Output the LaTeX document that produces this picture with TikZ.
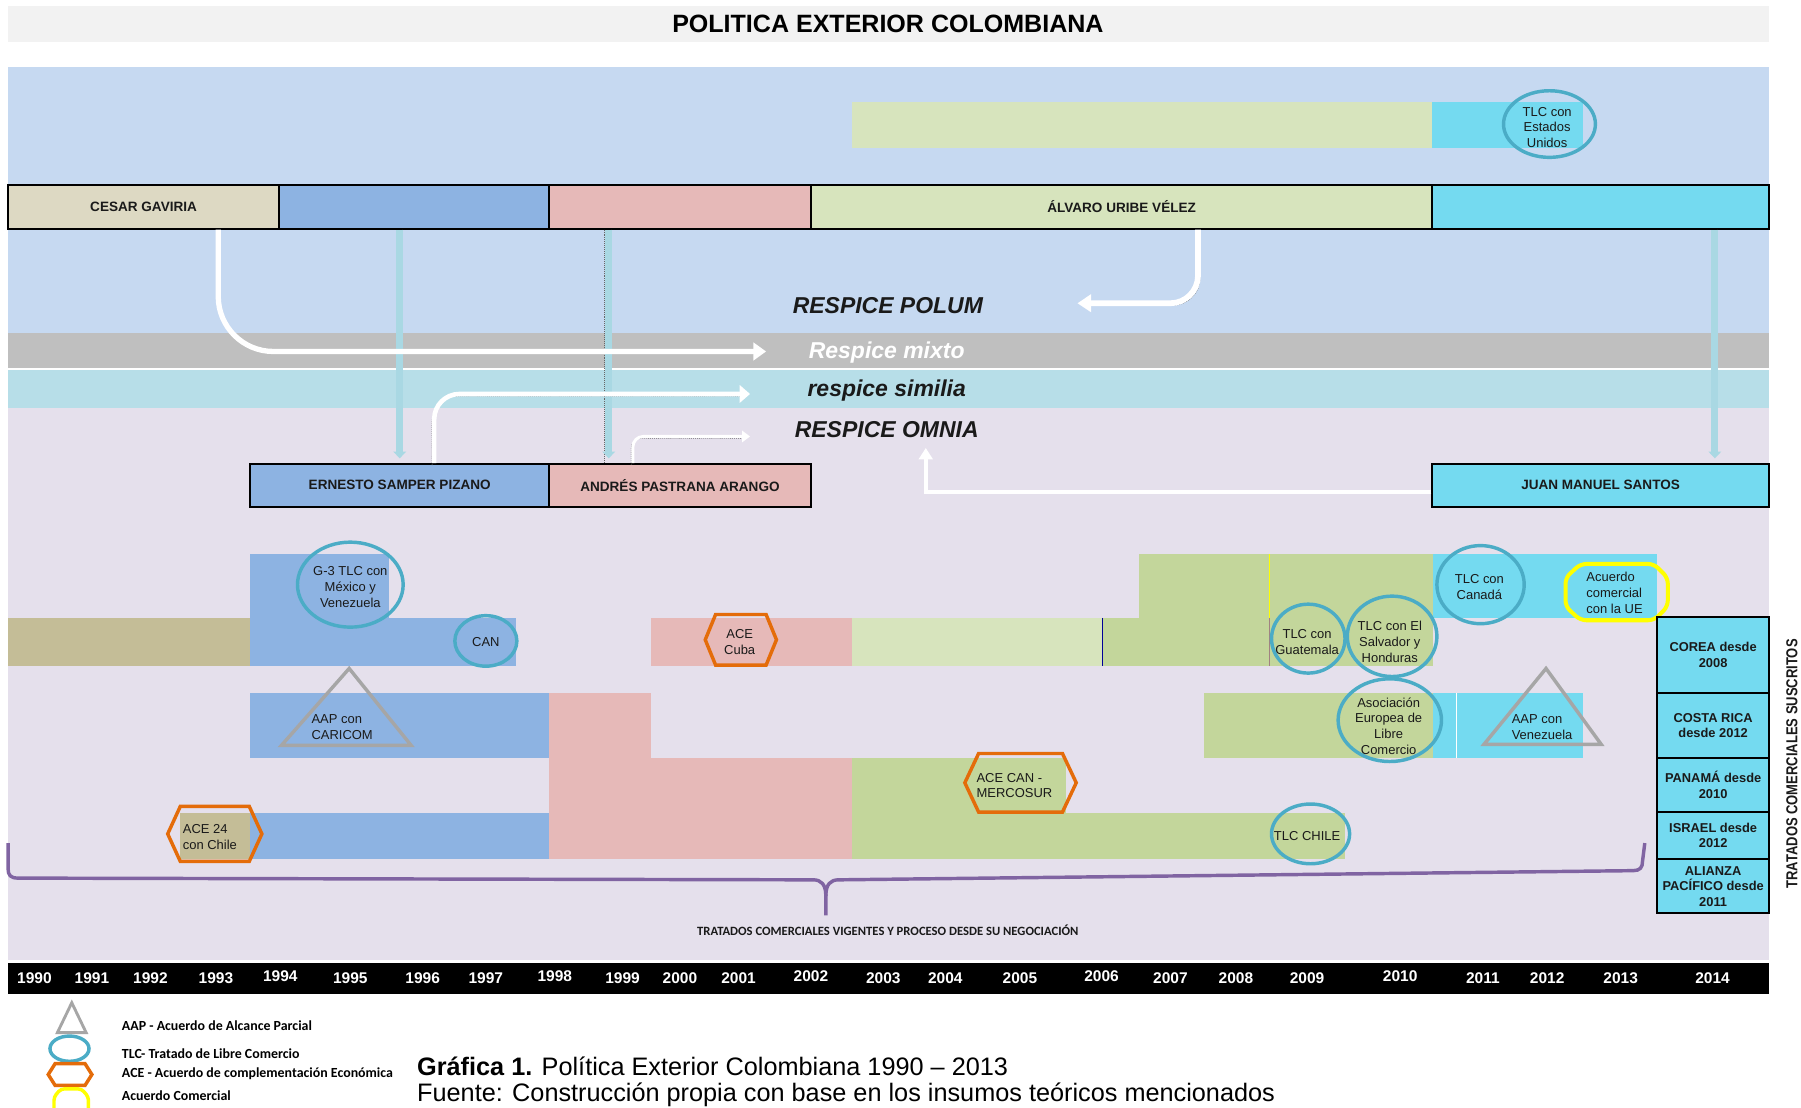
\documentclass[tikz,border=0pt]{standalone}
\usepackage{fontspec}
\setmainfont{Liberation Sans}
\newfontfamily\carl{Carlito}
\newfontfamily\condb[FakeStretch=0.82]{Liberation Sans}
\usetikzlibrary{arrows.meta}
\definecolor{titlegray}{HTML}{F2F2F2}
\definecolor{panelblue}{HTML}{C6D9F1}
\definecolor{mixgray}{HTML}{BFBFBF}
\definecolor{simblue}{HTML}{B7DEE8}
\definecolor{lav}{HTML}{E5E0EC}
\definecolor{khakiL}{HTML}{DDD9C3}
\definecolor{khakiD}{HTML}{C4BD97}
\definecolor{blu}{HTML}{8DB3E2}
\definecolor{pnk}{HTML}{E6B9B8}
\definecolor{grnL}{HTML}{D7E4BD}
\definecolor{grnD}{HTML}{C3D69B}
\definecolor{cyn}{HTML}{74DAF0}
\definecolor{tealc}{HTML}{4BACC6}
\definecolor{orng}{HTML}{E46C0A}
\definecolor{ylw}{HTML}{FFFF00}
\definecolor{purp}{HTML}{8064A2}
\definecolor{trigray}{HTML}{A6A6A6}
\definecolor{lbc}{HTML}{A9D8E3}
\definecolor{txt}{HTML}{1A1A1A}
\newcommand\fsz[2]{\fontsize{#1}{#2}\selectfont}
\newcommand\hexdraw[5]{\draw[ace] (#1-#3/2,#2) -- (#1-#3/2+#5,#2-#4/2) -- (#1+#3/2-#5,#2-#4/2) -- (#1+#3/2,#2) -- (#1+#3/2-#5,#2+#4/2) -- (#1-#3/2+#5,#2+#4/2) -- cycle;}
\begin{document}
\begin{tikzpicture}[x=1pt,y=-1pt,
  every node/.style={inner sep=0pt},
  pres/.style={draw=black, line width=1.8pt, inner sep=0pt, font=\bfseries\fsz{11.8}{14}, text=txt},
  lbl/.style={inner sep=0pt, align=center, font=\fsz{11.3}{13.7}, text=txt},
  lbll/.style={inner sep=0pt, align=left, font=\fsz{11.3}{13.7}, text=txt},
  resp/.style={inner sep=0pt, anchor=base, font=\bfseries\itshape\fsz{20}{24}, text=txt},
  tlc/.style={draw=tealc, line width=3pt},
  ace/.style={draw=orng, line width=3pt, line join=miter},
  aap/.style={draw=trigray, line width=3pt, line join=miter},
  yr/.style={text=white, font=\bfseries\fsz{13.5}{16}, inner sep=0pt},
  sus/.style={draw=black, line width=1.8pt, fill=cyn, inner sep=0pt, minimum width=97pt, align=center, font=\bfseries\fsz{11.2}{13.5}, text=txt},
  warrow/.style={draw=white, line cap=butt},
  shad/.style={draw=black!60, densely dotted, line width=0.7pt},
  lbarrow/.style={draw=lbc, line width=6pt, -{Triangle[width=11pt,length=6pt]}},
  leg/.style={anchor=west, inner sep=0pt, font=\carl\bfseries\fsz{12.1}{13}, text=black}
]
\useasboundingbox (0,0) rectangle (1568,964);
\clip (0,0) rectangle (1568,964);
\fill[white] (0,0) rectangle (1568,964);

% title
\fill[titlegray] (7,5) rectangle (1540,37);
\node[font=\bfseries\fsz{21.8}{24}, text=black] (title) at (773,21) {POLITICA EXTERIOR COLOMBIANA};

% bands
\fill[panelblue] (7,58) rectangle (1540,290);
\fill[mixgray] (7,290) rectangle (1540,320);
\fill[white] (7,320) rectangle (1540,322);
\fill[simblue] (7,322) rectangle (1540,355);
\fill[lav] (7,355) rectangle (1540,836);

% top bar
\fill[grnL] (742,89) rectangle (1247,129);
\fill[cyn] (1247,89) rectangle (1378,129);
\draw[tlc] (1349,108) ellipse [x radius=40, y radius=29];
\node[lbl, font=\fsz{11.3}{13.3}] (t-eeuu) at (1347,111) {TLC con\\Estados\\Unidos};

% presidents row 1
\node[pres, fill=khakiL, minimum width=236pt, minimum height=38pt] (gav) at (125,180) {CESAR GAVIRIA};
\node[pres, fill=blu, minimum width=235pt, minimum height=38pt] (sam0) at (360.5,180) {};
\node[pres, fill=pnk, minimum width=228pt, minimum height=38pt] (pas0) at (592,180) {};
\node[pres, fill=grnL, minimum width=541pt, minimum height=38pt] (uribe) at (976.5,180) {ÁLVARO URIBE VÉLEZ};
\node[pres, fill=cyn, minimum width=293pt, minimum height=38pt] (san0) at (1393.5,180) {};

% presidents row 2
\node[pres, fill=blu, minimum width=260pt, minimum height=37pt] (samper) at (348,422.5) {ERNESTO SAMPER PIZANO};
\node[pres, fill=pnk, minimum width=228pt, minimum height=37pt] (pastrana) at (592,422.5) {ANDRÉS PASTRANA ARANGO};
\node[pres, fill=cyn, minimum width=293pt, minimum height=37pt] (santos) at (1393.5,422.5) {JUAN MANUEL SANTOS};

% light blue connectors
\draw[lbarrow, shorten >=4pt] (sam0.south -| samper.north) -- (samper.north);
\draw[shad, transform canvas={shift={(-4pt,0pt)}}] ([xshift=-62pt]pas0.south) -- ([xshift=-62pt]pastrana.north);
\draw[lbarrow, shorten >=4pt] ([xshift=-62pt]pas0.south) -- ([xshift=-62pt]pastrana.north);
\draw[lbarrow, shorten >=4pt] ([xshift=99.5pt]san0.south) -- ([xshift=99.5pt]santos.north);

% respice labels
\node[resp] (polum) at (773,273) {RESPICE POLUM};
\node[resp, text=white] (mixto) at (772,312) {Respice mixto};
\node[resp] (similia) at (772,345) {respice similia};
\node[resp] (omnia) at (772,381) {RESPICE OMNIA};

% white arrows
\coordinate (mixtip) at (667,306);
\coordinate (simtip) at (653,343);
\coordinate (omtip) at (653,380);
\coordinate (poltip) at (938,264);
\coordinate (omup) at (806,390);
\draw[shad, rounded corners=48pt, transform canvas={shift={(1.5pt,-1.8pt)}}] ([xshift=65pt]gav.south) |- ([xshift=-6pt]mixtip);
\draw[warrow, line width=4.6pt, rounded corners=48pt, -{Triangle[width=15pt,length=11pt]}] ([xshift=65pt]gav.south) |- (mixtip);
\draw[shad, rounded corners=22pt, transform canvas={shift={(-1.8pt,-1.8pt)}}] ([xshift=30pt]samper.north) |- ([xshift=-6pt]simtip);
\draw[warrow, line width=4pt, rounded corners=22pt, -{Triangle[width=15pt,length=9pt]}] ([xshift=30pt]samper.north) |- (simtip);
\draw[shad, rounded corners=9pt, transform canvas={shift={(-1.5pt,-1.5pt)}}] ([xshift=-41pt]pastrana.north) |- ([xshift=-5pt]omtip);
\draw[warrow, line width=2.6pt, rounded corners=9pt, -{Triangle[width=10pt,length=7pt]}] ([xshift=-41pt]pastrana.north) |- (omtip);
\draw[shad, rounded corners=24pt, transform canvas={shift={(1.8pt,-1.8pt)}}] ([xshift=66.5pt]uribe.south) |- ([xshift=6pt]poltip);
\draw[warrow, line width=5pt, rounded corners=24pt, -{Triangle[width=15pt,length=12pt]}] ([xshift=66.5pt]uribe.south) |- (poltip);
\draw[shad, transform canvas={shift={(-1.5pt,-1.8pt)}}] ([yshift=-5.5pt]santos.west) -| ([yshift=-6pt]omup);
\draw[warrow, line width=3.5pt, -{Triangle[width=12pt,length=10pt]}] ([yshift=-5.5pt]santos.west) -| (omup);

% trade bars
\fill[khakiD] (7,538) rectangle (218,580);
\fill[blu] (218,482) rectangle (339,580);
\fill[blu] (339,538) rectangle (449,580);
\fill[pnk] (567,538) rectangle (742,580);
\fill[grnL] (742,538) rectangle (960,580);
\fill[grnD] (960,538) rectangle (1248,580);
\draw[blue!60!black, line width=0.8pt] (960,538) -- (960,580);
\fill[grnD] (992,482) rectangle (1248,538);
\draw[ylw, line width=0.8pt] (1105,482) -- (1105,538);
\draw[pnk!70!black, line width=0.5pt] (1105,538) -- (1105,580);
\fill[cyn] (1248,482) rectangle (1443,538);
\fill[blu] (218,603) rectangle (478,660);
\fill[pnk] (478,603) rectangle (567,660);
\fill[pnk] (478,660) rectangle (742,748);
\fill[grnD] (1048,603) rectangle (1248,660);
\fill[cyn] (1248,603) rectangle (1378,660);
\draw[white, line width=1.5pt] (1268,603) -- (1268,660);
\fill[grnD] (742,660) rectangle (928,708);
\fill[khakiD] (157,708) rectangle (218,748);
\fill[blu] (218,708) rectangle (478,748);
\fill[grnD] (742,708) rectangle (1171,748);

% agreement shapes
\draw[tlc] (305,509) ellipse [x radius=46, y radius=37];
\draw[tlc] (423,558) ellipse [x radius=27, y radius=22];
\draw[tlc] (1289,509) ellipse [x radius=38, y radius=34];
\draw[tlc] (1139,556) ellipse [x radius=32, y radius=30];
\draw[tlc] (1212,554) ellipse [x radius=39, y radius=35];
\draw[tlc] (1210,627) ellipse [x radius=45, y radius=36];
\draw[tlc] (1141,726) ellipse [x radius=34, y radius=26];
\hexdraw{645}{557}{62}{44}{9}
\hexdraw{187}{726}{82}{48}{11}
\hexdraw{888.5}{681.5}{97}{51}{12}
\draw[aap] (245,649) -- (304,582) -- (358,649) -- cycle;
\draw[aap] (1292,648) -- (1346,582) -- (1394,648) -- cycle;
\draw[draw=ylw, line width=3.5pt, rounded corners=5pt] (1363,503) -- (1376,491) -- (1440,491) -- (1452,503) -- (1452,528) -- (1440,540) -- (1376,540) -- (1363,528) -- cycle;

% agreement texts
\node[lbl] (t-g3) at (305,511) {G-3 TLC con\\México y\\Venezuela};
\node[lbl] (t-can) at (423,559) {CAN};
\node[lbl] (t-cuba) at (644,559) {ACE\\Cuba};
\node[lbll, anchor=west] (t-caricom) at (271,633) {AAP con\\CARICOM};
\node[lbll, anchor=west] (t-ace24) at (159,728.5) {ACE 24\\con Chile};
\node[lbll, anchor=west] (t-merc) at (850,684) {ACE CAN -\\MERCOSUR};
\node[lbl] (t-canada) at (1288,511) {TLC con\\Canadá};
\node[lbll, anchor=west] (t-ue) at (1381,516) {Acuerdo\\comercial\\con la UE};
\node[lbl] (t-guate) at (1138,559) {TLC con\\Guatemala};
\node[lbl] (t-salv) at (1210,559) {TLC con El\\Salvador y\\Honduras};
\node[lbl] (t-aelc) at (1209,632) {Asociación\\Europea de\\Libre\\Comercio};
\node[lbll, anchor=west] (t-venez) at (1316,633) {AAP con\\Venezuela};
\node[lbl] (t-chile) at (1138,728) {TLC CHILE};

% signed agreements column
\node[sus, minimum height=66pt] (corea) at (1491.5,570) {COREA desde\\2008};
\node[sus, minimum height=57pt] (costa) at (1491.5,631.5) {COSTA RICA\\desde 2012};
\node[sus, minimum height=47pt] (panama) at (1491.5,683.5) {PANAMÁ desde\\2010};
\node[sus, minimum height=41pt] (israel) at (1491.5,727.5) {ISRAEL desde\\2012};
\node[sus, minimum height=47pt] (alianza) at (1491.5,771.5) {ALIANZA\\PACÍFICO desde\\2011};
\node[rotate=90, font=\condb\bfseries\fsz{13.8}{16}, text=txt] (suscritos) at (1560,665) {TRATADOS COMERCIALES SUSCRITOS};

% brace
\draw[purp, line width=3pt, line join=round] (7,734) -- (7,756) .. controls (7,762) and (9,764.5) .. (16,764.5) -- (708,766) .. controls (715,766) and (719,770) .. (719,780) -- (719,797);
\draw[purp, line width=3pt, line join=round] (719,780) .. controls (719,770) and (723,766) .. (730,766) -- (1422,758) .. controls (1428,758) and (1430,755) .. (1430,750) -- (1432,734);
\node[font=\carl\bfseries\fsz{11}{13}, text=txt] (vigentes) at (773,810) {TRATADOS COMERCIALES VIGENTES Y PROCESO DESDE SU NEGOCIACIÓN};

% year bar
\fill[black] (7,838) rectangle (1540,865);
\foreach \yy/\xx/\vv in {1990/30/852,1991/80/852,1992/131/852,1993/188/852,1994/244/850,1995/305/852,1996/368/852,1997/423/852,1998/483/850,1999/542/852,2000/592/852,2001/643/852,2002/706/850,2003/769/852,2004/823/852,2005/888/852,2006/959/850,2007/1019/852,2008/1076/852,2009/1138/852,2010/1219/850,2011/1291/852,2012/1347/852,2013/1411/852,2014/1491/852}
  \node[yr] (y\yy) at (\xx,\vv) {\yy};

% legend
\draw[aap, line width=2.5pt] (50,899) -- (62.5,873) -- (75,899) -- cycle;
\draw[tlc] (60.5,913) ellipse [x radius=17, y radius=11];
\hexdraw{61}{935.5}{38}{19}{6}
\draw[draw=ylw, line width=3pt, rounded corners=3pt] (47,955) -- (53,948) -- (71,948) -- (77,955) -- (77,975) -- (47,975) -- cycle;
\node[leg] (l-aap) at (106,893) {AAP - Acuerdo de Alcance Parcial};
\node[leg] (l-tlc) at (106,917) {TLC- Tratado de Libre Comercio};
\node[leg] (l-ace) at (106,935) {ACE - Acuerdo de complementación Económica};
\node[leg] (l-ac) at (106,954) {Acuerdo Comercial};

% caption
\node[anchor=base west, font=\fsz{22}{25}, text=black] (cap1) at (363,936.5) {\textbf{Gráfica 1.} Política Exterior Colombiana 1990 – 2013};
\node[anchor=base west, font=\fsz{22}{25}, text=black] (cap2) at (363,959) {Fuente: Construcción propia con base en los insumos teóricos mencionados};
\end{tikzpicture}
\end{document}
